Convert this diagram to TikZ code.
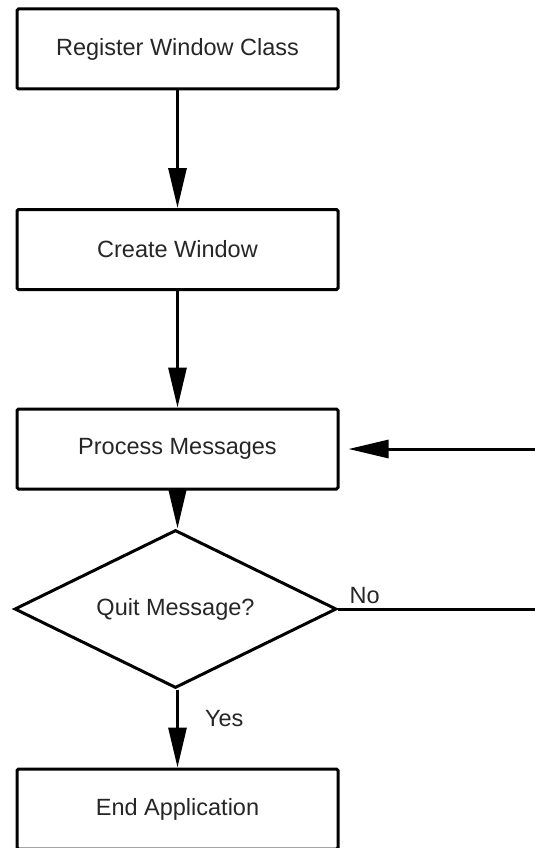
\documentclass[tikz,border=0pt]{standalone}
\usepackage{fontspec}
\setmainfont{Liberation Sans}
\usetikzlibrary{arrows.meta,shapes.geometric}

\begin{document}
\begin{tikzpicture}[x=1pt, y=-1pt,
        stepbox/.style={draw, line width=3pt, rounded corners=1.5pt, minimum width=321pt, minimum height=80pt, inner sep=0pt, text=black!85, font=\fontsize{23.5}{27}\selectfont},
        decision/.style={draw, diamond, aspect=2, line width=3pt, minimum width=322pt, minimum height=158pt, inner sep=0pt, text=black!85, font=\fontsize{23.5}{27}\selectfont},
        flow/.style={line width=3pt, -{Triangle[length=40pt,width=18pt]}},
        answer/.style={text=black!85, font=\fontsize{23.5}{27}\selectfont}]
            \useasboundingbox (0,0) rectangle (535,848);

            \node[stepbox] (register) at (177.5,49) {Register Window Class};
            \node[stepbox] (create) at (177.5,249.5) {Create Window};
            \node[stepbox] (process) at (177.5,449) {Process Messages};
            \node[decision] (quit) at (175.5,609) {Quit Message?};
            \node[stepbox] (finish) at (177.5,809) {End Application};

            \coordinate (loop) at (545,609);

            \draw[flow] (register) -- (create);
            \draw[flow] (create) -- (process);
            \draw[flow] (process.south) -- (process.south |- quit.north);
            \draw[flow] (quit.south -| finish.north) -- (finish.north);
            \draw[flow, shorten >=9pt] (quit.east) -- (loop) |- (process.east);

            \path (quit.east) node[answer, anchor=south west, xshift=8pt, yshift=2pt] (no) {No};
            \path (finish.north) node[answer, anchor=west, xshift=24pt, yshift=49pt] (yes) {Yes};
        \end{tikzpicture}
\end{document}
